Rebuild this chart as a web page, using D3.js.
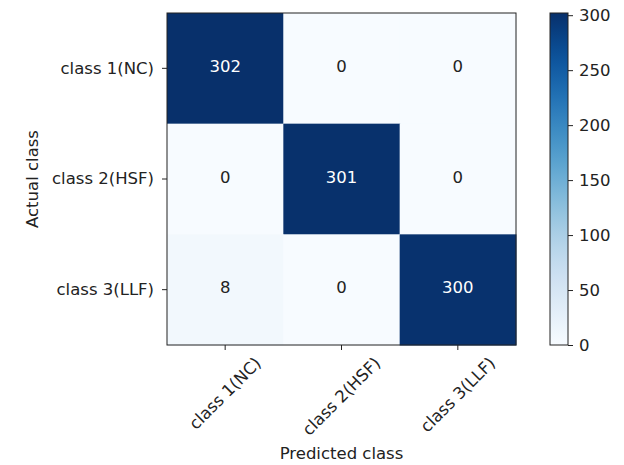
<!DOCTYPE html>
<html><head><meta charset="utf-8">
<script src="https://cdn.jsdelivr.net/npm/d3@7"></script>
<style>body{margin:0;background:#fff}text{font-family:"DejaVu Sans",sans-serif;fill:#222}</style>
</head><body>
<svg id="c" width="624" height="465"></svg>
<script>
const classes = ["class 1(NC)", "class 2(HSF)", "class 3(LLF)"];
const matrix = [
  [302, 0, 0],
  [0, 301, 0],
  [8, 0, 300]
];
const colorbarTicks = [0, 50, 100, 150, 200, 250, 300];
const xTitle = "Predicted class";
const yTitle = "Actual class";

const svg = d3.select("#c");
const L = 167, R = 516, T = 13, B = 345;
const fs = 16.5;
const x = d3.scaleBand().domain(classes).range([L, R]);
const y = d3.scaleBand().domain(classes).range([T, B]);
const vmax = d3.max(matrix.flat());
const color = d3.scaleSequential(d3.interpolateBlues).domain([0, vmax]);

const cells = [];
matrix.forEach((row, i) => row.forEach((v, j) => cells.push({r: classes[i], c: classes[j], v})));
svg.selectAll("rect.cell").data(cells).join("rect").attr("class", "cell")
  .attr("x", d => x(d.c)).attr("y", d => y(d.r))
  .attr("width", x.bandwidth() + 0.5).attr("height", y.bandwidth() + 0.5)
  .attr("fill", d => color(d.v));
svg.selectAll("text.val").data(cells).join("text").attr("class", "val")
  .attr("x", d => x(d.c) + x.bandwidth() / 2).attr("y", d => y(d.r) + y.bandwidth() / 2 - 2)
  .attr("text-anchor", "middle").attr("dominant-baseline", "central")
  .style("font-size", fs + "px")
  .style("fill", d => d.v > vmax / 2 ? "#fff" : "#222")
  .text(d => d.v);

svg.append("rect").attr("x", L).attr("y", T).attr("width", R - L).attr("height", B - T)
  .attr("fill", "none").attr("stroke", "#222").attr("stroke-width", 1);

const xa = svg.append("g").attr("transform", `translate(0,${B})`)
  .call(d3.axisBottom(x).tickSize(5).tickSizeOuter(0));
xa.select(".domain").remove();
xa.selectAll("text").style("font-size", fs + "px").attr("text-anchor", "middle")
  .attr("dy", null).attr("y", 0).attr("dominant-baseline", "central")
  .each(function () {
    const w = this.getComputedTextLength(), h = fs * 1.1;
    const half = (w + h) / (2 * Math.SQRT2);
    d3.select(this).attr("transform", `translate(0,${9 + half}) rotate(-45)`);
  });
const ya = svg.append("g").attr("transform", `translate(${L},0)`)
  .call(d3.axisLeft(y).tickSize(5).tickSizeOuter(0));
ya.select(".domain").remove();
ya.selectAll("text").style("font-size", fs + "px").attr("x", -13);
svg.selectAll(".tick line").attr("stroke", "#222");

svg.append("text").attr("x", (L + R) / 2).attr("y", 459).attr("text-anchor", "middle")
  .style("font-size", fs + "px").text(xTitle);
svg.append("text").attr("transform", `translate(38,${(T + B) / 2}) rotate(-90)`)
  .attr("text-anchor", "middle").style("font-size", fs + "px").text(yTitle);

// colorbar
const CL = 550, CW = 18;
const cy = d3.scaleLinear().domain([0, vmax]).range([B, T]);
const defs = svg.append("defs");
const grad = defs.append("linearGradient").attr("id", "g").attr("x1", 0).attr("x2", 0).attr("y1", 1).attr("y2", 0);
d3.range(0, 1.001, 0.05).forEach(t => grad.append("stop").attr("offset", t).attr("stop-color", d3.interpolateBlues(t)));
svg.append("rect").attr("x", CL).attr("y", T).attr("width", CW).attr("height", B - T).attr("fill", "url(#g)")
  .attr("stroke", "#222").attr("stroke-width", 1);
const ca = svg.append("g").attr("transform", `translate(${CL + CW},0)`)
  .call(d3.axisRight(cy).tickValues(colorbarTicks).tickSize(5).tickSizeOuter(0));
ca.select(".domain").remove();
ca.selectAll("text").style("font-size", fs + "px").attr("x", 11);
ca.selectAll(".tick line").attr("stroke", "#222");
</script>
</body></html>
